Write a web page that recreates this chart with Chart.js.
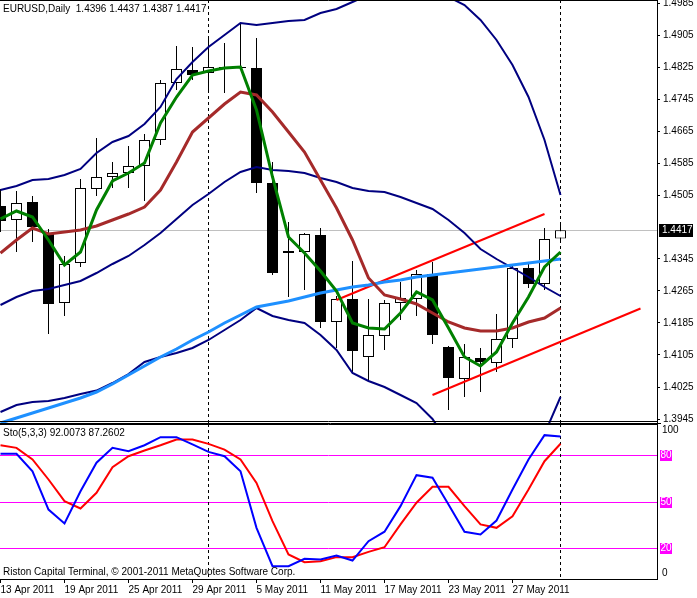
<!DOCTYPE html>
<html>
<head>
<meta charset="utf-8">
<title>EURUSD,Daily</title>
<script src="https://cdn.jsdelivr.net/npm/chart.js@4.4.1/dist/chart.umd.min.js"></script>
<style>
  html, body { margin: 0; padding: 0; background: #fff; }
  #wrap { position: relative; width: 697px; height: 598px; overflow: hidden; background: #fff; }
  #priceChart { position: absolute; left: 0; top: 0; }
  #stoChart { position: absolute; left: 0; top: 424px; }
</style>
</head>
<body>
<div id="wrap">
  <canvas id="priceChart" width="697" height="424"></canvas>
  <canvas id="stoChart" width="697" height="174"></canvas>
</div>
<script>
// daily bars, 13 Apr 2011 .. 1 Jun 2011 (index = bar number)
const open  = [1.44775, 1.44425, 1.44875, 1.441, 1.4235, 1.4335, 1.452, 1.455, 1.456, 1.45775, 1.46425, 1.4785, 1.48175, 1.481, 1.4825, 1.4825, 1.48225, 1.4535, 1.436, 1.43625, 1.4405, 1.41875, 1.4245, 1.41, 1.41525, 1.4235, 1.4245, 1.43075, 1.4125, 1.4045, 1.40975, 1.4085, 1.4145, 1.43225, 1.42825, 1.4396];
const high  = [1.452, 1.4515, 1.45025, 1.442, 1.43525, 1.4545, 1.46475, 1.45875, 1.46275, 1.46575, 1.47925, 1.48775, 1.4875, 1.49, 1.4885, 1.4935, 1.48975, 1.45875, 1.44375, 1.441, 1.44225, 1.42525, 1.434, 1.4245, 1.42425, 1.42875, 1.43175, 1.43375, 1.41275, 1.41325, 1.41225, 1.42075, 1.433, 1.43375, 1.44225, 1.4437];
const low   = [1.44125, 1.43625, 1.43875, 1.41575, 1.42025, 1.4325, 1.45025, 1.45225, 1.45225, 1.449, 1.463, 1.47675, 1.47925, 1.47625, 1.476, 1.482, 1.451, 1.4305, 1.425, 1.42675, 1.41725, 1.41225, 1.40625, 1.40425, 1.41175, 1.41925, 1.42025, 1.41325, 1.39675, 1.4, 1.40125, 1.40625, 1.41225, 1.42725, 1.42675, 1.4387];
const close = [1.444, 1.4485, 1.4425, 1.42325, 1.43325, 1.45225, 1.455, 1.456, 1.45775, 1.46425, 1.4785, 1.482, 1.4805, 1.4825, 1.482, 1.48225, 1.4535, 1.431, 1.4365, 1.44075, 1.41875, 1.4245, 1.4115, 1.4155, 1.4235, 1.42475, 1.43075, 1.4155, 1.40475, 1.41, 1.40875, 1.4145, 1.43225, 1.42825, 1.4395, 1.4417];

// bollinger bands
const bbUpper  = [1.45175, 1.45275, 1.45425, 1.4545, 1.4555, 1.457, 1.461, 1.46375, 1.46525, 1.46825, 1.4725, 1.4795, 1.48375, 1.4875, 1.4905, 1.4935, 1.493, 1.4935, 1.494, 1.49425, 1.496, 1.497, 1.49875, 1.5005, 1.50175, 1.50225, 1.502, 1.50125, 1.5, 1.498, 1.49425, 1.48925, 1.483, 1.475, 1.46425, 1.4505];
const bbMiddle = [1.423, 1.425, 1.4265, 1.427, 1.428, 1.429, 1.431, 1.43325, 1.43525, 1.438, 1.441, 1.4445, 1.448, 1.45075, 1.45375, 1.45625, 1.4575, 1.45675, 1.4565, 1.456, 1.45475, 1.45375, 1.45225, 1.4515, 1.45125, 1.45, 1.4485, 1.447, 1.44425, 1.441, 1.437, 1.4345, 1.43225, 1.43, 1.4275, 1.42525];
const bbLower  = [1.39625, 1.398, 1.39875, 1.399, 1.39975, 1.40075, 1.4016, 1.4035, 1.40575, 1.40875, 1.41, 1.411, 1.41225, 1.41425, 1.41675, 1.41925, 1.42225, 1.42025, 1.41925, 1.4185, 1.4155, 1.41175, 1.406, 1.404, 1.4025, 1.4005, 1.3985, 1.3945, 1.3885, 1.384, 1.37975, 1.37975, 1.3815, 1.385, 1.39075, 1.40];

// moving averages
const maSlow = [1.436, 1.43925, 1.44225, 1.44075, 1.44125, 1.44175, 1.44275, 1.44425, 1.44575, 1.4475, 1.45175, 1.45875, 1.46625, 1.46975, 1.47325, 1.47625, 1.4755, 1.47125, 1.46625, 1.46125, 1.45425, 1.44725, 1.43925, 1.42975, 1.4255, 1.4245, 1.42325, 1.421, 1.41875, 1.41725, 1.4165, 1.4165, 1.41725, 1.41875, 1.41975, 1.42225];
const maFast = [1.4445, 1.4465, 1.445, 1.43925, 1.433, 1.43625, 1.44675, 1.454, 1.456, 1.4585, 1.4685, 1.475, 1.4805, 1.4815, 1.48225, 1.4825, 1.47175, 1.455, 1.44, 1.436, 1.4315, 1.4265, 1.4185, 1.41725, 1.417, 1.421, 1.42625, 1.42425, 1.41725, 1.41, 1.40775, 1.41125, 1.4185, 1.425, 1.4325, 1.43625];
const maLong = [1.3935, 1.39475, 1.396, 1.39725, 1.3985, 1.39975, 1.40125, 1.40325, 1.4055, 1.40775, 1.41, 1.412, 1.41425, 1.41625, 1.4185, 1.4205, 1.4225, 1.42325, 1.424, 1.425, 1.426, 1.42675, 1.4275, 1.428, 1.42875, 1.42925, 1.43, 1.4305, 1.431, 1.4315, 1.432, 1.4325, 1.433, 1.4335, 1.434, 1.4345];

// hand drawn channel (bar, price)
const chanTopBars = [21, 34];
const chanTopPrices = [1.42425, 1.44575];
const chanLowBars = [27, 40];
const chanLowPrices = [1.4005, 1.42213];

// stochastic 5,3,3
const stoMain   = [80.8, 80.8, 69.5, 44.8, 35.8, 56.6, 75, 84.6, 82.5, 86.3, 91.5, 91.5, 86.8, 82, 79.2, 69.5, 33, 8.3, 8.3, 13, 12.6, 15.2, 11.9, 24.4, 30.5, 47, 67, 65.3, 48.1, 30.5, 28.7, 37.7, 57.7, 77.1, 92.8, 92.0073];
const stoSignal = [86.3, 84.6, 77.1, 64.2, 50.2, 45.5, 55.6, 72.1, 79.2, 82.9, 86.3, 90, 90, 87.2, 83.5, 77.1, 62, 37.3, 15.8, 10.8, 11.5, 14.1, 14.1, 17.5, 20.5, 35.2, 49.2, 59.5, 59.5, 47, 35.2, 33, 40.5, 57.7, 76, 87.2602];
const stoLevels = [80, 50, 20];

const tickBars = [0, 4, 8, 12, 16, 20, 24, 28, 32];
const dateLabels = ["13 Apr 2011", "19 Apr 2011", "25 Apr 2011", "29 Apr 2011", "5 May 2011", "11 May 2011", "17 May 2011", "23 May 2011", "27 May 2011"];
// 1.4425 sits under the current price box, so it is not listed
const priceTicks = [1.3945, 1.4025, 1.4105, 1.4185, 1.4265, 1.4345, 1.4505, 1.4585, 1.4665, 1.4745, 1.4825, 1.4905, 1.4985];
const separatorBars = [13, 35];

const fontFamily = "'Liberation Sans', Arial, sans-serif";
const axisFont = { family: fontFamily, size: 10 };
const xMin = -0.03125;
const xMax = 41.03125;
const last = close.length - 1;

function pts(values) {
  return values.map((v, i) => ({ x: i, y: v }));
}

function pairPts(bars, prices) {
  return bars.map((b, i) => ({ x: b, y: prices[i] }));
}

function lineSet(data, color, width) {
  return { type: "line", data: data, borderColor: color, borderWidth: width, pointRadius: 0, tension: 0, order: 0 };
}

function drawSeparators(ctx, x, top, bottom) {
  ctx.save();
  ctx.strokeStyle = "#000";
  ctx.lineWidth = 1;
  ctx.setLineDash([3, 3]);
  separatorBars.forEach(b => {
    const px = Math.floor(x.getPixelForValue(b)) + 0.5;
    ctx.beginPath();
    ctx.moveTo(px, top);
    ctx.lineTo(px, bottom);
    ctx.stroke();
  });
  ctx.restore();
}

function hLine(ctx, x1, x2, y) {
  ctx.beginPath();
  ctx.moveTo(x1, y);
  ctx.lineTo(x2, y);
  ctx.stroke();
}

function symbolTitle() {
  return "EURUSD,Daily  " + [open[last], high[last], low[last], close[last]].map(v => v.toFixed(4)).join(" ");
}

const priceDecor = {
  id: "priceDecor",
  beforeDatasetsDraw(chart) {
    const { ctx, chartArea: a, scales: { x, y } } = chart;
    ctx.save();
    // bid line
    ctx.strokeStyle = "#c0c0c0";
    ctx.lineWidth = 1;
    hLine(ctx, a.left, a.right, Math.round(y.getPixelForValue(close[last])) + 0.5);
    ctx.restore();
    drawSeparators(ctx, x, a.top, a.bottom);
  },
  afterDraw(chart) {
    const { ctx, chartArea: a, scales: { y } } = chart;
    ctx.save();
    ctx.strokeStyle = "#000";
    ctx.lineWidth = 1;
    hLine(ctx, a.left, a.right, 0.5);
    hLine(ctx, a.left, a.right, 421.5);
    hLine(ctx, a.left, a.right + 4, 423.5);

    ctx.font = "10px " + fontFamily;
    ctx.textBaseline = "middle";
    ctx.fillStyle = "#000";
    ctx.fillText(symbolTitle(), 3, 9);

    // current price box
    const by = Math.round(y.getPixelForValue(close[last]));
    ctx.fillStyle = "#000";
    ctx.fillRect(a.right + 2, by - 6, 34, 13);
    ctx.fillStyle = "#fff";
    ctx.fillText(close[last].toFixed(4), a.right + 5, by + 0.5);
    ctx.restore();
  }
};

const stoDecor = {
  id: "stoDecor",
  beforeDatasetsDraw(chart) {
    const { ctx, chartArea: a, scales: { x, y } } = chart;
    ctx.save();
    ctx.strokeStyle = "#ff00ff";
    ctx.lineWidth = 1;
    stoLevels.forEach(l => hLine(ctx, a.left, a.right, Math.round(y.getPixelForValue(l)) + 0.5));
    ctx.restore();
    drawSeparators(ctx, x, a.top, a.bottom);
  },
  afterDraw(chart) {
    const { ctx, chartArea: a, scales: { y } } = chart;
    ctx.save();
    ctx.strokeStyle = "#000";
    ctx.lineWidth = 1;
    hLine(ctx, a.left, a.right, 0.5);

    ctx.textBaseline = "middle";
    ctx.fillStyle = "#000";
    ctx.font = "10px " + fontFamily;
    ctx.fillText("Sto(5,3,3) " + stoMain[last].toFixed(4) + " " + stoSignal[last].toFixed(4), 3, 9.5);
    ctx.fillText("Riston Capital Terminal, \u00a9 2001-2011 MetaQuotes Software Corp.", 3, 148);

    ctx.fillText("100", a.right + 5, 6);
    ctx.fillText("0", a.right + 5, 149);
    stoLevels.forEach(l => {
      const ly = Math.round(y.getPixelForValue(l));
      ctx.fillStyle = "#ff00ff";
      ctx.fillRect(a.right + 3, ly - 5, 12, 11);
      ctx.fillStyle = "#fff";
      ctx.fillText(String(l), a.right + 3.5, ly + 0.5);
    });
    ctx.restore();
  }
};

function initPrice() {
  new Chart(document.getElementById("priceChart"), {
    type: "bar",
    data: {
      datasets: [
        lineSet(pts(maFast), "#008000", 3),
        lineSet(pts(maSlow), "#a52a2a", 3),
        lineSet(pts(maLong), "#1e90ff", 3),
        lineSet(pts(bbUpper), "#000080", 2),
        lineSet(pts(bbMiddle), "#000080", 2),
        lineSet(pts(bbLower), "#000080", 2),
        lineSet(pairPts(chanTopBars, chanTopPrices), "#ff0000", 2),
        lineSet(pairPts(chanLowBars, chanLowPrices), "#ff0000", 2),
        {
          data: open.map((o, i) => ({ x: i, y: [o, close[i]] })),
          backgroundColor: open.map((o, i) => close[i] >= o ? "#ffffff" : "#000000"),
          borderColor: "#000",
          borderWidth: 1,
          borderSkipped: false,
          inflateAmount: 0,
          barThickness: 11,
          grouped: false,
          order: 1
        },
        {
          data: high.map((h, i) => ({ x: i, y: [low[i], h] })),
          backgroundColor: "#000",
          borderWidth: 0,
          inflateAmount: 0,
          barThickness: 1,
          grouped: false,
          order: 2
        }
      ]
    },
    options: {
      responsive: false,
      animation: false,
      devicePixelRatio: 1,
      events: [],
      layout: { padding: 0 },
      plugins: { legend: { display: false }, tooltip: { enabled: false } },
      scales: {
        x: {
          type: "linear",
          min: xMin,
          max: xMax,
          offset: false,
          display: false,
          afterFit: s => { s.paddingLeft = 0; s.paddingRight = 0; }
        },
        y: {
          position: "right",
          min: 1.39325,
          max: 1.49925,
          afterBuildTicks: s => { s.ticks = priceTicks.map(v => ({ value: v })); },
          afterFit: s => { s.width = 40; s.paddingTop = 0; s.paddingBottom = 0; },
          grid: { drawOnChartArea: false, tickLength: 3, color: "#000" },
          border: { display: true, color: "#000" },
          ticks: { padding: 3, color: "#000", font: axisFont, autoSkip: false, callback: v => v.toFixed(4) }
        }
      }
    },
    plugins: [priceDecor]
  });
}

function initSto() {
  new Chart(document.getElementById("stoChart"), {
    type: "line",
    data: {
      datasets: [
        lineSet(pts(stoMain), "#0000ff", 2),
        lineSet(pts(stoSignal), "#ff0000", 2)
      ]
    },
    options: {
      responsive: false,
      animation: false,
      devicePixelRatio: 1,
      events: [],
      layout: { padding: 0 },
      plugins: { legend: { display: false }, tooltip: { enabled: false } },
      scales: {
        x: {
          type: "linear",
          min: xMin,
          max: xMax,
          offset: false,
          afterBuildTicks: s => { s.ticks = tickBars.map(v => ({ value: v })); },
          afterFit: s => { s.height = 19; s.paddingLeft = 0; s.paddingRight = 0; },
          grid: { drawOnChartArea: false, offset: false, tickLength: 4, color: "#000" },
          border: { display: true, color: "#000" },
          ticks: {
            align: "start",
            padding: 1,
            maxRotation: 0,
            autoSkip: false,
            color: "#000",
            font: axisFont,
            callback: v => dateLabels[tickBars.indexOf(v)]
          }
        },
        y: {
          position: "right",
          min: 0,
          max: 100,
          afterFit: s => { s.width = 40; s.paddingTop = 0; s.paddingBottom = 0; },
          grid: { display: false },
          border: { display: true, color: "#000" },
          ticks: { display: false }
        }
      }
    },
    plugins: [stoDecor]
  });
}

initPrice();
initSto();
</script>
</body>
</html>
